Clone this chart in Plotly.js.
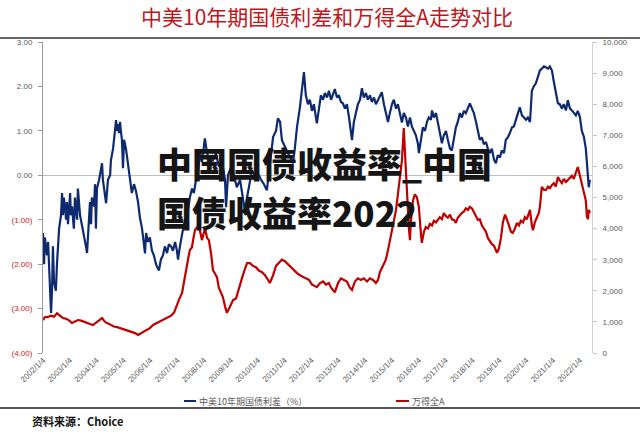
<!DOCTYPE html>
<html><head><meta charset="utf-8">
<script src="https://cdn.plot.ly/plotly-3.0.1.min.js"></script>
<style>html,body{margin:0;padding:0;background:#fff}#chart{width:640px;height:432px}</style>
</head><body><div id="chart"></div>
<script>
// 中美10年期国债利差（%） — decimal years (x) and values
const spreadYears = [2002.00,2002.04,2002.07,2002.15,2002.19,2002.26,2002.30,2002.34,2002.37,2002.41,2002.48,2002.52,2002.60,2002.67,2002.71,2002.74,2002.78,2002.86,2002.89,2002.93,
2003.01,2003.04,2003.08,2003.15,2003.19,2003.27,2003.30,2003.38,2003.45,2003.53,2003.60,2003.64,2003.68,2003.75,2003.79,2003.82,2003.90,2003.94,2003.97,
2004.01,2004.09,2004.16,2004.20,2004.23,2004.31,2004.35,2004.42,2004.50,2004.53,2004.61,2004.68,2004.72,2004.76,2004.79,2004.83,2004.87,2004.90,2004.94,2004.98,
2005.02,2005.09,2005.17,2005.24,2005.31,2005.39,2005.46,2005.54,2005.61,2005.69,2005.76,2005.80,2005.84,2005.91,2005.98,
2006.06,2006.13,2006.21,2006.28,2006.32,2006.39,2006.47,2006.54,2006.62,2006.69,2006.77,2006.84,2006.92,2006.99,
2007.03,2007.10,2007.18,2007.25,2007.33,2007.40,2007.47,2007.55,2007.62,2007.70,2007.77,2007.85,2007.92,
2008.00,2008.03,2008.11,2008.22,2008.33,2008.44,2008.55,2008.67,2008.78,2008.82,2008.89,
2009.00,2009.11,2009.22,2009.34,2009.41,2009.52,2009.60,2009.71,2009.78,2009.89,
2010.01,2010.12,2010.23,2010.34,2010.45,2010.57,2010.68,2010.75,2010.83,2010.90,2010.97,
2011.09,2011.20,2011.31,2011.38,2011.46,2011.57,2011.65,2011.72,2011.79,2011.87,2011.94,
2012.02,2012.09,2012.17,2012.20,2012.28,2012.35,2012.43,2012.50,2012.58,2012.65,2012.73,2012.80,2012.87,2012.95,
2013.02,2013.10,2013.17,2013.25,2013.32,2013.40,2013.47,2013.51,2013.58,2013.66,2013.73,2013.81,2013.88,2013.95,
2014.03,2014.10,2014.18,2014.25,2014.33,2014.40,2014.48,2014.55,2014.62,2014.70,2014.77,2014.85,2014.92,
2015.00,2015.07,2015.15,2015.22,2015.29,2015.37,2015.44,2015.52,2015.59,2015.67,2015.74,2015.82,2015.89,2015.97,
2016.00,2016.08,2016.15,2016.23,2016.30,2016.37,2016.45,2016.49,2016.56,2016.64,2016.71,2016.78,2016.86,2016.93,
2017.01,2017.08,2017.16,2017.23,2017.31,2017.38,2017.45,2017.53,2017.60,2017.68,2017.75,2017.83,2017.90,2017.98,
2018.05,2018.13,2018.20,2018.27,2018.35,2018.42,2018.50,2018.57,2018.65,2018.72,2018.80,2018.87,2018.94,
2019.02,2019.09,2019.17,2019.24,2019.32,2019.39,2019.47,2019.54,2019.61,2019.69,2019.76,2019.84,2019.91,2019.99,
2020.06,2020.14,2020.21,2020.28,2020.36,2020.43,2020.51,2020.58,2020.66,2020.73,2020.81,2020.88,2020.96,
2021.03,2021.10,2021.18,2021.25,2021.33,2021.40,2021.48,2021.55,2021.63,2021.70,2021.77,2021.85,2021.92,
2022.00,2022.07,2022.15,2022.22,2022.26,2022.30,2022.33,2022.37];
const spreadValues = [-1.3,-2.0,-1.4,-1.8,-1.5,-2.6,-3.1,-2.5,-1.6,-2.4,-2.6,-2.0,-1.2,-0.9,-0.4,-0.9,-0.5,-1.0,-0.6,-1.1,
-0.4,-0.9,-0.7,-1.2,-0.5,-1.0,-0.3,-0.9,-1.1,-1.4,-1.6,-1.75,-1.3,-0.6,-1.1,-0.5,-0.7,-0.2,-1.2,
-0.3,-0.1,0.1,0.27,-0.1,-0.4,-0.63,-0.1,0.0,0.34,0.6,1.0,1.24,1.0,1.15,0.95,1.2,1.0,0.8,0.16,
0.8,0.6,0.2,-0.18,-0.4,-0.2,-0.35,-0.6,-0.95,-1.2,-1.5,-1.76,-1.3,-1.5,-1.4,
-1.7,-1.8,-2.0,-2.1,-2.14,-1.9,-1.8,-1.6,-1.75,-1.55,-1.6,-1.7,-1.5,-1.7,
-1.9,-1.6,-1.3,-1.1,-0.95,-0.8,-0.5,-0.3,-0.4,-0.1,0.05,0.5,0.3,
0.7,0.83,0.5,0.3,0.34,0.5,0.2,0.3,-0.1,-0.72,0.0,
0.18,0.0,-0.27,-0.1,-0.4,-0.8,-0.5,-0.1,0.1,0.0,
0.04,-0.1,-0.2,-0.34,0.3,0.86,1.0,1.28,1.2,0.79,0.7,
0.56,0.4,0.27,0.6,1.08,1.53,1.9,2.32,1.8,1.6,1.7,
1.45,1.6,1.3,1.17,1.5,1.8,1.7,1.85,1.75,1.9,1.7,1.8,1.94,1.75,
1.8,1.65,1.62,1.5,1.6,1.3,1.0,0.79,1.2,1.4,1.6,1.7,1.96,1.75,
1.85,1.7,1.8,1.65,1.75,1.6,1.7,1.8,1.87,1.6,1.4,1.2,1.4,
1.6,1.7,1.5,1.6,1.4,1.19,1.4,1.3,1.1,1.3,1.1,1.0,0.9,0.7,
0.5,0.8,1.08,1.0,1.2,1.3,1.25,1.46,1.3,1.4,1.2,1.0,0.72,0.9,
1.0,0.8,0.6,0.56,0.9,1.08,1.2,1.4,1.3,1.45,1.4,1.5,1.62,1.5,
1.4,1.2,1.0,0.8,0.85,0.7,0.75,0.6,0.5,0.6,0.35,0.27,0.45,
0.4,0.56,0.5,0.8,0.86,0.95,1.08,1.1,1.24,1.4,1.53,1.35,1.3,1.25,
1.3,1.2,1.9,2.0,2.07,2.2,2.36,2.4,2.45,2.43,2.4,2.45,2.35,
2.1,1.9,1.62,1.6,1.5,1.6,1.46,1.69,1.5,1.46,1.4,1.35,1.45,
1.31,1.0,0.86,0.6,0.34,0.0,-0.27,-0.1];

// 万得全A — decimal years (x) and index level
const indexYears = [2002.00,2002.07,2002.19,2002.30,2002.41,2002.52,2002.63,2002.74,2002.86,2002.97,
2003.08,2003.19,2003.30,2003.42,2003.53,2003.64,2003.75,2003.86,2003.97,
2004.09,2004.20,2004.31,2004.42,2004.53,2004.64,2004.76,2004.87,2004.98,
2005.09,2005.20,2005.31,2005.43,2005.54,2005.65,2005.76,2005.87,2005.98,
2006.10,2006.21,2006.32,2006.43,2006.54,2006.65,2006.77,2006.88,2006.95,
2007.06,2007.18,2007.25,2007.33,2007.40,2007.47,2007.55,2007.59,2007.66,2007.74,2007.81,2007.88,2007.92,
2008.00,2008.03,2008.11,2008.18,2008.26,2008.33,2008.41,2008.48,2008.55,2008.63,2008.70,2008.78,2008.85,2008.96,
2009.08,2009.19,2009.30,2009.41,2009.52,2009.60,2009.71,2009.82,2009.93,
2010.04,2010.16,2010.27,2010.38,2010.45,2010.57,2010.68,2010.79,2010.90,
2011.01,2011.12,2011.24,2011.35,2011.46,2011.57,2011.68,2011.79,2011.91,
2012.02,2012.13,2012.20,2012.32,2012.43,2012.54,2012.65,2012.73,2012.80,2012.87,2012.99,
2013.10,2013.21,2013.32,2013.43,2013.51,2013.62,2013.73,2013.84,2013.95,
2014.07,2014.18,2014.29,2014.40,2014.48,2014.55,2014.66,2014.77,2014.85,2014.92,
2015.00,2015.07,2015.15,2015.22,2015.29,2015.37,2015.41,2015.44,2015.48,2015.52,2015.56,2015.59,2015.63,2015.67,2015.70,2015.78,2015.85,2015.93,
2016.00,2016.08,2016.11,2016.19,2016.26,2016.34,2016.41,2016.49,2016.56,2016.64,2016.71,2016.78,2016.86,2016.93,
2017.01,2017.08,2017.16,2017.23,2017.31,2017.38,2017.45,2017.53,2017.60,2017.68,2017.75,2017.83,2017.90,2017.98,
2018.05,2018.13,2018.20,2018.27,2018.35,2018.42,2018.50,2018.57,2018.65,2018.72,2018.80,2018.87,2018.91,2018.98,
2019.06,2019.13,2019.21,2019.28,2019.35,2019.43,2019.50,2019.58,2019.65,2019.73,2019.80,2019.88,2019.95,
2020.02,2020.10,2020.14,2020.21,2020.25,2020.32,2020.40,2020.47,2020.51,2020.58,2020.66,2020.73,2020.81,2020.88,2020.96,
2021.03,2021.10,2021.18,2021.25,2021.33,2021.40,2021.48,2021.55,2021.63,2021.70,2021.77,2021.85,2021.92,
2022.00,2022.07,2022.15,2022.22,2022.26,2022.30,2022.33,2022.37];
const indexValues = [1060,1150,1160,1200,1170,1280,1200,1125,1100,1050,
965,1000,1060,1040,1000,950,930,900,980,
1060,1125,1000,950,900,850,830,800,780,
750,720,680,640,580,640,700,740,800,
900,950,1000,1060,1100,1160,1200,1300,1480,
1700,1930,2300,2760,3000,3310,3400,3630,3950,4050,4050,3800,3630,
3900,4050,3700,3630,3200,2670,2550,2440,2100,1930,1800,1500,1290,1480,
1700,1750,2100,2400,2700,2890,2890,2800,2760,
2650,2600,2500,2350,2250,2500,2800,2900,3000,
2950,2850,2760,2650,2570,2500,2440,2400,2350,
2200,2150,2120,2250,2300,2200,2250,2100,2030,1950,2250,
2400,2350,2300,2100,2030,2300,2400,2350,2400,
2300,2400,2350,2250,2350,2600,2800,3000,3300,3630,
3900,4300,4600,5100,5600,6200,6800,7230,6500,5700,5100,4500,4000,3630,4200,4900,5100,5000,
4700,3800,3540,3900,4050,4000,4150,4100,4250,4200,4300,4370,4300,4500,
4400,4350,4450,4300,4280,4180,4350,4450,4500,4550,4650,4600,4700,4650,
4550,4400,4280,4300,4100,4000,3900,3700,3600,3500,3450,3300,3220,3350,
3700,4200,4450,4300,4100,3900,3860,4000,4180,4100,4250,4200,4370,
4300,4500,4600,4100,3950,4200,4370,4500,4700,5340,5250,5240,5350,5300,5400,
5460,5350,5660,5550,5460,5600,5500,5560,5650,5700,5600,5790,5980,
5700,5460,5100,4900,4400,4300,4600,4500];

const yearTicks = [2002,2003,2004,2005,2006,2007,2008,2009,2010,2011,2012,2013,2014,2015,2016,2017,2018,2019,2020,2021,2022];
const yearTickText = ['2002/1/4','2003/1/4','2004/1/4','2005/1/4','2006/1/4','2007/1/4','2008/1/4','2009/1/4','2010/1/4','2011/1/4','2012/1/4','2013/1/4','2014/1/4','2015/1/4','2016/1/4','2017/1/4','2018/1/4','2019/1/4','2020/1/4','2021/1/4','2022/1/4'];
const leftTickVals = [3,2,1,0,-1,-2,-3,-4];
const leftTickText = ['3.00','2.00','1.00','0.00','(1.00)','(2.00)','(3.00)','(4.00)'];
const rightTickVals = [0,1000,2000,3000,4000,5000,6000,7000,8000,9000,10000];

const BLUE = '#0e2a6e', RED = '#c00000';
const leftTickHtml = leftTickText.map(t => t.startsWith('(') ? '<span style="fill:#d02020">' + t + '</span>' : t);

const traces = [
  {x: spreadYears, y: spreadValues, type: 'scatter', mode: 'lines', name: '中美10年期国债利差（%）',
   line: {color: BLUE, width: 2.2}, yaxis: 'y', showlegend: false},
  {x: indexYears, y: indexValues, type: 'scatter', mode: 'lines', name: '万得全A',
   line: {color: RED, width: 2.2}, yaxis: 'y2', showlegend: false}
];

const W = 549, H = 311; // plot area size in px
const px = v => (v - 43) / W;   // page x -> paper
const py = v => (353 - v) / H;  // page y -> paper
const tickFont = {family: 'Liberation Sans, Arial, sans-serif', size: 8, color: '#595959'};

const layout = {
  width: 640, height: 432,
  margin: {l: 43, r: 48, t: 42, b: 79},
  paper_bgcolor: '#fff', plot_bgcolor: '#fff',
  title: {text: '中美10年期国债利差和万得全A走势对比', x: 0.511, xanchor: 'center', y: 0.958, yanchor: 'middle',
          font: {family: 'Noto Sans CJK SC', size: 21, color: '#c0161c'}},
  xaxis: {range: [2002, 2022.45], tickvals: yearTicks, ticktext: yearTickText, tickangle: -45,
          showgrid: false, zeroline: false, showline: false, ticks: '', tickfont: tickFont},
  xaxis2: {matches: 'x', overlaying: 'x', anchor: 'free', position: py(175), range: [2002, 2022.45],
           tickvals: yearTicks, showticklabels: false, ticks: 'outside', ticklen: 3, tickcolor: '#bfbfbf',
           showline: true, linecolor: '#bfbfbf', linewidth: 1, showgrid: false, zeroline: false},
  yaxis: {range: [-4, 3], tickvals: leftTickVals, ticktext: leftTickHtml, showgrid: false,
          zeroline: true, zerolinecolor: '#bfbfbf', zerolinewidth: 1,
          showline: true, linecolor: '#9a9a9a', linewidth: 1, ticks: 'outside', ticklen: 4, tickcolor: '#9a9a9a',
          tickfont: tickFont, ticklabelstandoff: 4},
  yaxis2: {range: [0, 10000], overlaying: 'y', side: 'right', tickvals: rightTickVals, tickformat: ',',
           showgrid: false, zeroline: false, showline: true, linecolor: '#d0d0d0', linewidth: 1,
           ticks: 'outside', ticklen: 4, tickcolor: '#c8c8c8', tickfont: tickFont, ticklabelstandoff: 4},
  shapes: [
    {type: 'line', xref: 'paper', yref: 'paper', x0: px(0), x1: px(640), y0: py(38), y1: py(38), line: {color: '#333', width: 1.5}},
    {type: 'line', xref: 'paper', yref: 'paper', x0: px(0), x1: px(640), y0: py(408), y1: py(408), line: {color: '#555', width: 2}},
    {type: 'line', xref: 'paper', yref: 'paper', x0: px(184), x1: px(196), y0: py(401), y1: py(401), line: {color: BLUE, width: 2}},
    {type: 'line', xref: 'paper', yref: 'paper', x0: px(396), x1: px(409), y0: py(401), y1: py(401), line: {color: RED, width: 2}}
  ],
  annotations: [
    {xref: 'paper', yref: 'paper', x: px(197), y: py(401), xanchor: 'left', yanchor: 'middle', showarrow: false,
     text: '中美10年期国债利差（%）', font: {family: 'Noto Sans CJK SC', size: 9, color: '#595959'}},
    {xref: 'paper', yref: 'paper', x: px(410), y: py(401), xanchor: 'left', yanchor: 'middle', showarrow: false,
     text: '万得全A', font: {family: 'Noto Sans CJK SC', size: 9, color: '#595959'}},
    {xref: 'paper', yref: 'paper', x: px(30), y: py(421), xanchor: 'left', yanchor: 'middle', showarrow: false,
     text: '资料来源：Choice', font: {family: 'Noto Sans CJK SC', size: 11, color: '#111', weight: 'bold'}},
    {xref: 'paper', yref: 'paper', x: px(155), y: py(162), xanchor: 'left', yanchor: 'middle', showarrow: false,
     text: '中国国债收益率_中国', font: {family: 'Noto Sans CJK SC', size: 35, color: '#151515', weight: 900}},
    {xref: 'paper', yref: 'paper', x: px(155), y: py(211), xanchor: 'left', yanchor: 'middle', showarrow: false,
     text: '国债收益率2022', font: {family: 'Noto Sans CJK SC', size: 35, color: '#151515', weight: 900}}
  ]
};

Plotly.newPlot('chart', traces, layout, {staticPlot: true, displayModeBar: false});
</script>
</body></html>
